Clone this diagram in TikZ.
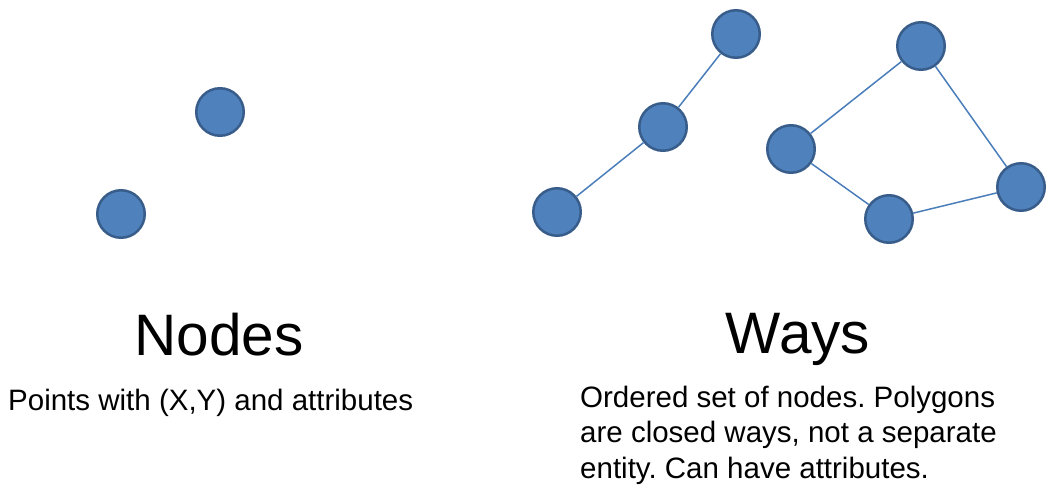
\documentclass[tikz,border=0pt]{standalone}
\usepackage{fontspec}
\setmainfont{Liberation Sans}
\frenchspacing
\definecolor{dotfill}{HTML}{4F81BD}
\definecolor{dotedge}{HTML}{385D8A}
\definecolor{linkc}{HTML}{4A7EBB}
\tikzset{
  dot/.style={circle, fill=dotfill, draw=dotedge, line width=2.5pt, minimum size=47.5pt, inner sep=0pt},
  link/.style={draw=linkc, line width=1.5pt},
  title/.style={anchor=base, inner sep=0pt, font=\fontsize{58.5}{70}\selectfont},
  desc/.style={anchor=base west, inner sep=0pt, align=left, font=\fontsize{29.5}{35.5}\selectfont}
}
\begin{document}
\begin{tikzpicture}[x=1pt,y=-1pt]
\useasboundingbox (0,0) rectangle (1058,490);
% Nodes
\node[dot] (n1) at (220,112) {};
\node[dot] (n2) at (121,214) {};
% Ways: chain
\node[dot] (a1) at (557,212) {};
\node[dot] (a2) at (663,127) {};
\node[dot] (a3) at (736,34) {};
\draw[link] (a1) -- (a2);
\draw[link] (a2) -- (a3);
% Ways: polygon (open)
\node[dot] (b1) at (921,46) {};
\node[dot] (b2) at (791,149) {};
\node[dot] (b3) at (889,219) {};
\node[dot] (b4) at (1021,187) {};
\draw[link] (b1) -- (b2);
\draw[link] (b2) -- (b3);
\draw[link] (b3) -- (b4);
\draw[link] (b4) -- (b1);
% Texts
\node[title] (t1) at (219,355) {Nodes};
\node[title] (t2) at (798,353) {Ways};
\node[desc] (d1) at (8,410) {Points with (X,Y) and attributes};
\node[desc] (d2) at (580,478) {Ordered set of nodes. Polygons\\are closed ways, not a separate\\entity. Can have attributes.};
\end{tikzpicture}
\end{document}
